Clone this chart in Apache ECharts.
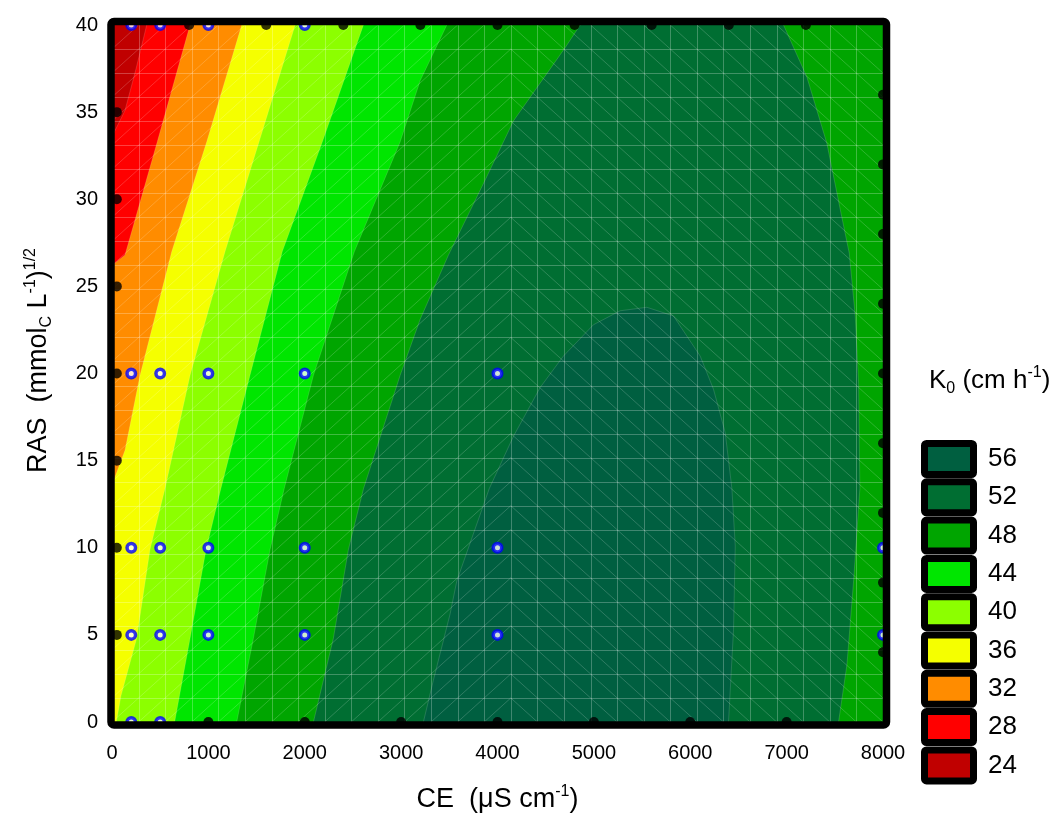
<!DOCTYPE html>
<html>
<head>
<meta charset="utf-8">
<script src="https://cdn.jsdelivr.net/npm/echarts@6/dist/echarts.min.js"></script>
<style>
  html, body { margin: 0; padding: 0; background: #ffffff; }
  #chart { width: 1063px; height: 819px; }
</style>
</head>
<body>
<div id="chart"></div>
<script>
// Axis ranges and tick steps
const CE_RANGE = [0, 8000];
const CE_STEP = 1000;
const RAS_RANGE = [0, 40];
const RAS_STEP = 5;

// K0 contour levels (cm h-1) and their fill colours, lowest first
const levels = [24, 28, 32, 36, 40, 44, 48, 52, 56];
const levelColors = ['#c00000', '#ff0000', '#ff8c00', '#f5ff00', '#8cff00', '#00e600', '#00a500', '#006e32', '#005f40'];

// Contour lines as [CE, RAS] points
const k28 = [[360, 40], [250, 37.5], [135, 35.1], [0, 33.6]];
const k32 = [[810, 40], [470, 33.3], [135, 26.8], [0, 26.2]];
const k36 = [[1346, 40], [983, 33.3], [620, 27], [291, 19.9], [135, 15.6], [0, 13.6]];
const k40 = [[1900, 40], [1526, 33.3], [1173, 27], [810, 19.9], [550, 13.4], [394, 9.9], [256, 4.8], [93, 1.5], [45, 0]];
const k44 = [[2609, 40], [2183, 33.3], [1767, 27], [1432, 19.9], [1130, 13.4], [976, 9.9], [810, 4.8], [650, 0]];
const k48 = [[3474, 40], [3197, 36.8], [2990, 33.3], [2515, 27], [2090, 19.9], [1787, 13.4], [1640, 9.9], [1467, 4.8], [1294, 0]];
const k52West = [[4858, 40], [4702, 38.7], [4166, 34.5], [3889, 31.3], [3491, 26.8], [3197, 23.1], [2990, 19.9], [2610, 13.4], [2453, 9.9], [2297, 4.8], [2090, 0]];
const k52East = [[6968, 40], [7211, 37], [7418, 33.2], [7557, 29.4], [7650, 26.9], [7712, 23.3], [7747, 19.4], [7760, 13.4], [7695, 8.1], [7626, 3.3], [7539, 0]];
const k56 = [[3231, 0], [3335, 2.4], [3508, 6.2], [3578, 8.1], [3915, 13.4], [4166, 16.4], [4443, 19.2], [4684, 21.0], [4996, 22.8], [5273, 23.6], [5550, 23.8], [5826, 23.3], [6103, 21.0], [6241, 19.1], [6363, 16.6], [6432, 13.4], [6467, 10.1], [6449, 5.3], [6397, 0]];

// Experimental design points (open circles) and grid points (filled)
const designPoints = [
  [200, 40], [500, 40], [1000, 40], [2000, 40],
  [200, 20], [500, 20], [1000, 20], [2000, 20], [4000, 20],
  [200, 10], [500, 10], [1000, 10], [2000, 10], [4000, 10], [8000, 10],
  [200, 5], [500, 5], [1000, 5], [2000, 5], [4000, 5], [8000, 5],
  [200, 0], [500, 0]
];
const gridPoints = [
  [800, 40], [1600, 40], [2400, 40], [3200, 40], [4000, 40], [4800, 40], [5600, 40], [6400, 40], [7200, 40],
  [8000, 36], [8000, 32], [8000, 28], [8000, 24], [8000, 20], [8000, 16], [8000, 12], [8000, 8], [8000, 4],
  [1000, 0], [2000, 0], [3000, 0], [4000, 0], [5000, 0], [6000, 0], [7000, 0],
  [50, 35], [50, 30], [50, 25], [50, 20], [50, 15], [50, 10], [50, 5]
];

// Filled regions K >= level, built from the contour lines and the plot edges
const [x0, x1] = CE_RANGE, [y0, y1] = RAS_RANGE;
const regions = [
  { color: levelColors[0], pts: [[x0, y0], [x1, y0], [x1, y1], [x0, y1]] },
  { color: levelColors[1], pts: k28.concat([[x0, y0], [x1, y0], [x1, y1]]) },
  { color: levelColors[2], pts: k32.concat([[x0, y0], [x1, y0], [x1, y1]]) },
  { color: levelColors[3], pts: k36.concat([[x0, y0], [x1, y0], [x1, y1]]) },
  { color: levelColors[4], pts: k40.concat([[x0, y0], [x1, y0], [x1, y1]]) },
  { color: levelColors[5], pts: k44.concat([[x1, y0], [x1, y1]]) },
  { color: levelColors[6], pts: k48.concat([[x1, y0], [x1, y1]]) },
  { color: levelColors[7], pts: k52West.concat(k52East.slice().reverse()) },
  { color: levelColors[8], pts: k56 }
];
const contourLines = [k28, k32, k36, k40, k44, k48, k52West, k52East, k56];

const FONT = "'Liberation Sans', Arial, sans-serif";

function regionItem(params, api) {
  const reg = regions[params.dataIndex];
  return {
    type: 'polygon',
    shape: { points: reg.pts.map(p => api.coord(p)) },
    style: { fill: reg.color }
  };
}

function contourItem(params, api) {
  return {
    type: 'group',
    children: contourLines.map(line => ({
      type: 'polyline',
      shape: { points: line.map(p => api.coord(p)) },
      style: { fill: null, stroke: 'rgba(255,255,255,0.14)', lineWidth: 1 }
    }))
  };
}

// Interpolation mesh drawn over the surface
function meshItem(params, api) {
  const n = 29, turn = 15;
  const P = (i, j) => api.coord([x0 + (x1 - x0) * i / n, y0 + (y1 - y0) * j / n]);
  const children = [];
  const gridStyle = { stroke: 'rgba(255,255,255,0.25)', lineWidth: 1 };
  const diagStyle = { stroke: 'rgba(255,255,255,0.18)', lineWidth: 1 };
  for (let i = 1; i < n; i++) {
    const a = P(i, 0), b = P(i, n);
    const x = Math.round(a[0]) + 0.5;
    children.push({ type: 'line', shape: { x1: x, y1: a[1], x2: x, y2: b[1] }, style: gridStyle });
  }
  for (let j = 1; j < n; j++) {
    const a = P(0, j), b = P(n, j);
    const y = Math.round(a[1]) + 0.5;
    children.push({ type: 'line', shape: { x1: a[0], y1: y, x2: b[0], y2: y }, style: gridStyle });
  }
  for (let i = 0; i < n; i++) {
    for (let j = 0; j < n; j++) {
      let a, b;
      if (i < turn) { a = P(i, j); b = P(i + 1, j + 1); }
      else { a = P(i, j + 1); b = P(i + 1, j); }
      children.push({ type: 'line', shape: { x1: a[0], y1: a[1], x2: b[0], y2: b[1] }, style: diagStyle });
    }
  }
  return { type: 'group', children };
}

function frameItem(params, api) {
  const tl = api.coord([x0, y1]), br = api.coord([x1, y0]);
  return {
    type: 'rect',
    shape: { x: tl[0] - 1, y: tl[1] - 3.5, width: br[0] - tl[0] + 4.5, height: br[1] - tl[1] + 6.5, r: 3 },
    style: { fill: null, stroke: '#000000', lineWidth: 7.5, lineJoin: 'round' }
  };
}

// Colour key, highest level on top
const keyLeft = 924.5, keyTop = 443.5, keyPitch = 38.3;
const keyElements = [];
for (let i = 0; i < levels.length; i++) {
  const k = levels.length - 1 - i;
  keyElements.push({
    type: 'rect', z: 100,
    shape: { x: keyLeft, y: keyTop + i * keyPitch, width: 49, height: 31, r: 2 },
    style: { fill: levelColors[k], stroke: '#000000', lineWidth: 7, lineJoin: 'round' }
  });
  keyElements.push({
    type: 'text', z: 101,
    x: 988, y: keyTop + i * keyPitch + 15.5,
    style: { text: String(levels[k]), font: '26px ' + FONT, fill: '#000000', verticalAlign: 'middle' }
  });
}
keyElements.push({
  type: 'text', z: 101,
  x: 929, y: 381,
  style: {
    text: 'K{sub|0} (cm h{sup|-1})',
    fill: '#000000',
    font: '26px ' + FONT,
    verticalAlign: 'middle',
    rich: {
      sub: { fontSize: 16, fontFamily: FONT, verticalAlign: 'bottom', lineHeight: 32 },
      sup: { fontSize: 16, fontFamily: FONT, verticalAlign: 'top', lineHeight: 32 }
    }
  }
});

const nameRich = {
  sub: { fontSize: 16, fontFamily: FONT, color: '#000', verticalAlign: 'bottom', lineHeight: 32 },
  sup: { fontSize: 16, fontFamily: FONT, color: '#000', verticalAlign: 'top', lineHeight: 32 }
};

const chart = echarts.init(document.getElementById('chart'), null, { renderer: 'canvas' });
chart.setOption({
  animation: false,
  backgroundColor: '#ffffff',
  grid: { left: 112, right: 180, top: 25, bottom: 97, containLabel: false, outerBoundsMode: 'none' },
  xAxis: {
    type: 'value', min: CE_RANGE[0], max: CE_RANGE[1], interval: CE_STEP,
    axisLine: { show: false }, axisTick: { show: false }, splitLine: { show: false },
    axisLabel: { color: '#000', fontSize: 20, fontFamily: FONT, margin: 21, formatter: v => String(v) },
    name: 'CE  (μS cm{sup|-1})', nameLocation: 'middle', nameGap: 62,
    nameTextStyle: { color: '#000', fontSize: 27, fontFamily: FONT, lineHeight: 32, rich: nameRich }
  },
  yAxis: {
    type: 'value', min: RAS_RANGE[0], max: RAS_RANGE[1], interval: RAS_STEP,
    axisLine: { show: false }, axisTick: { show: false }, splitLine: { show: false },
    axisLabel: { color: '#000', fontSize: 20, fontFamily: FONT, margin: 14, formatter: v => String(v) },
    name: 'RAS  (mmol{sub|C} L{sup|-1}){sup|1/2}', nameLocation: 'middle', nameGap: 57, nameRotate: 90,
    nameTextStyle: { color: '#000', fontSize: 27, fontFamily: FONT, lineHeight: 32, rich: nameRich, padding: [0, 0, 0, 26] }
  },
  graphic: keyElements,
  series: [
    { type: 'custom', z: 1, renderItem: regionItem, data: regions.map((r, i) => [0, 0, i]), silent: true },
    { type: 'custom', z: 2, renderItem: contourItem, data: [[0, 0]], silent: true },
    { type: 'custom', z: 3, renderItem: meshItem, data: [[0, 0]], silent: true },
    {
      type: 'scatter', z: 4, data: gridPoints, symbol: 'circle', symbolSize: 10,
      itemStyle: { color: '#000000' }, silent: true
    },
    {
      type: 'scatter', z: 5, data: designPoints, symbol: 'circle', symbolSize: 8.5,
      itemStyle: { color: '#ffffff', borderColor: '#0000ff', borderWidth: 3.5 }, silent: true
    },
    { type: 'custom', z: 10, renderItem: frameItem, data: [[0, 0]], silent: true }
  ]
});
</script>
</body>
</html>
